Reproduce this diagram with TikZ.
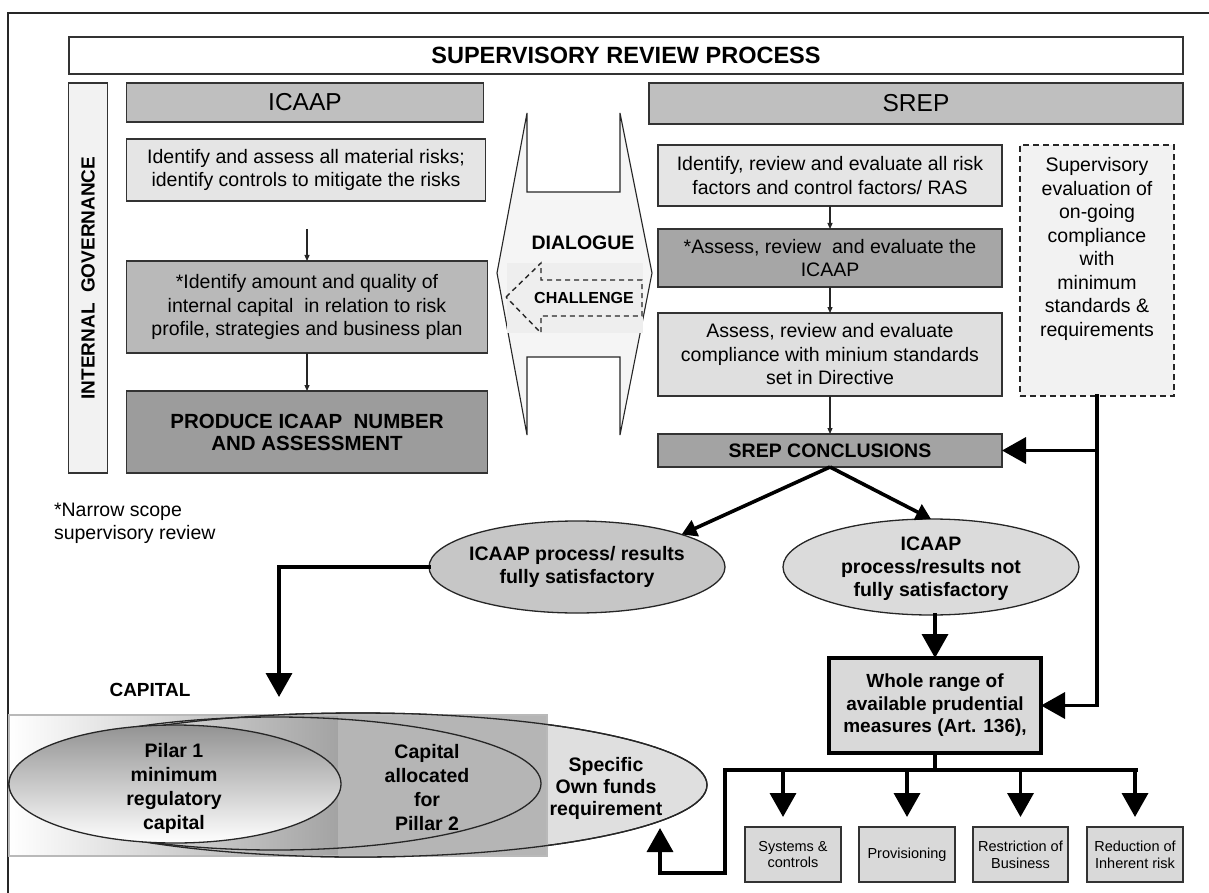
\documentclass[tikz,border=0pt]{standalone}
\usepackage{fontspec}
\setmainfont{Liberation Sans}
\usetikzlibrary{arrows.meta,shapes.geometric,calc}
\newcommand{\fsNorm}{\fontsize{19.5}{23.5}\selectfont}
\newcommand{\fsHead}{\fontsize{24.5}{28}\selectfont}
\newcommand{\fsTitle}{\fontsize{23.5}{26}\selectfont\bfseries}
\newcommand{\fsBold}{\fontsize{19.5}{23}\selectfont\bfseries}
\newcommand{\fsSmall}{\fontsize{14.5}{16.7}\selectfont}
\newcommand{\fsChal}{\fontsize{16}{19}\selectfont\bfseries}
\begin{document}
\begin{tikzpicture}[x=1pt,y=-1pt,
  every node/.style={inner sep=0pt, outer sep=0pt},
  box/.style={draw=black!80, line width=1.1pt, align=center, font=\fsNorm},
  ell/.style={ellipse, draw=black!85, line width=1.3pt},
  txt/.style={align=center, font=\fsBold},
  thinarr/.style={draw=black!85, line width=1.2pt, -{Triangle[length=6pt,width=5pt]}},
  thickln/.style={line width=3.6pt, line join=miter, line cap=rect},
  thickarr/.style={thickln, -{Triangle[length=24pt,width=26pt]}},
  midarr/.style={line width=3.6pt, -{Triangle[length=15pt,width=17pt]}},
]
\useasboundingbox (0,0) rectangle (1209,893);
% outer frame
\draw[line width=1.2pt, black!85] (8,893) -- (8,13) -- (1209,13);
% title
\node[box, fill=white, minimum width=1114pt, minimum height=37pt, font=\fsTitle] (title) at (626,55.5) {SUPERVISORY REVIEW PROCESS};
% internal governance
\node[box, fill=gray!10, minimum width=38.5pt, minimum height=390pt] (ig) at (88,278) {};
\node[rotate=90, font=\fontsize{19}{22}\selectfont\bfseries] (igt) at (ig.center) {INTERNAL\ \ GOVERNANCE};
% ICAAP column
\node[box, fill=gray!50, minimum width=357.5pt, minimum height=39pt, font=\fsHead] (icaap) at (305,102.5) {ICAAP};
\node[box, fill=gray!20, minimum width=358.5pt, minimum height=62pt] (b1) at (306,170) {Identify and assess all material risks;\\identify controls to mitigate the risks};
\node[box, fill=gray!55, minimum width=361.5pt, minimum height=92pt] (b2) at (307,307) {*Identify amount and quality of\\internal capital\ \ in relation to risk\\profile, strategies and business plan};
\node[box, fill=gray!78, minimum width=361.5pt, minimum height=82pt, font=\fontsize{20.5}{22}\selectfont\bfseries] (b3) at (307,432) {PRODUCE ICAAP\ \ NUMBER\\AND ASSESSMENT};
\coordinate (a1s) at (307,229);
\draw[thinarr] (a1s) -- (b2.north);
\draw[thinarr] (b2.south) -- (b3.north);
% dialogue shape
\draw[line width=1.1pt, black!85, fill=gray!8] (497,273) -- (527,113) -- (527,192) -- (620,192) -- (620,113) -- (652,273) -- (620,435) -- (620,357) -- (527,357) -- (527,435) -- cycle;
\fill[gray!13] (507,263) rectangle (643,333);
\draw[dashed, line width=1.4pt, black!85, dash pattern=on 5pt off 4pt] (506,297) -- (541,263) -- (541,280) -- (642,280) -- (642,316) -- (541,316) -- (541,333) -- cycle;
\node[font=\fsBold] (dlg) at (583,243) {DIALOGUE};
\node[font=\fsChal] (chl) at (584,298) {CHALLENGE};
% SREP column
\node[box, fill=gray!50, minimum width=534pt, minimum height=41pt, font=\fsHead] (srep) at (916,103.5) {SREP};
\node[box, fill=gray!20, minimum width=344pt, minimum height=61pt] (s1) at (830,175.5) {Identify, review and evaluate all risk\\factors and control factors/ RAS};
\node[box, fill=gray!70, minimum width=344pt, minimum height=58pt] (s2) at (830,258) {*Assess, review\ \ and evaluate the\\ICAAP};
\node[box, fill=gray!25, minimum width=344pt, minimum height=83pt] (s3) at (830,354.5) {Assess, review and evaluate\\compliance with minium standards\\set in Directive};
\node[box, fill=gray!72, minimum width=344pt, minimum height=33pt, font=\fontsize{19.5}{21}\selectfont\bfseries] (concl) at (830,450.5) {SREP CONCLUSIONS};
\draw[thinarr] (s1.south) -- (s2.north);
\draw[thinarr] (s2.south) -- (s3.north);
\draw[thinarr] (s3.south) -- (concl.north);
\node[box, fill=gray!10, dashed, dash pattern=on 6pt off 4pt, line width=1.8pt, draw=black!85, minimum width=154pt, minimum height=251pt] (dash) at (1097,270.5) {};
\node[align=center, font=\fsNorm] (dasht) at (1097,249) {Supervisory\\evaluation of\\on-going\\compliance\\with\\minimum\\standards \&\\requirements};
% footnote
\node[anchor=west, align=left, font=\fsNorm] (note) at (54,523.5) {*Narrow scope\\supervisory review};
% outcome ellipses
\node[ell, fill=gray!45, minimum width=296pt, minimum height=92pt] (le) at (577,567) {};
\node[txt] (let) at (le.center) {ICAAP process/ results\\fully satisfactory};
\node[ell, fill=gray!28, minimum width=296pt, minimum height=96pt] (re) at (931,567) {};
\node[txt] (ret) at (931,569) {ICAAP\\process/results not\\fully satisfactory};
\draw[midarr] (concl.south) -- (le.north east);
\draw[midarr] (concl.south) -- (re.north);
% whole range
\node[draw=black, line width=3.6pt, fill=gray!30, minimum width=212pt, minimum height=95pt, align=center, font=\fontsize{19}{22.5}\selectfont\bfseries] (wr) at (935,705.5) {Whole range of\\available prudential\\measures (Art. 136),};
\draw[thickarr] (wr.north |- re.south) -- (wr.north);
\draw[thickarr] (dash.south) -- (dash.south |- wr.east) -- (wr.east);
\draw[thickarr] (dash.south |- concl.east) -- (concl.east);
% measures
\node[box, fill=gray!30, minimum width=96pt, minimum height=55pt, font=\fsSmall] (sb1) at (793,854.5) {Systems \&\\controls};
\node[box, fill=gray!30, minimum width=96pt, minimum height=55pt, font=\fsSmall] (sb2) at (907,854.5) {Provisioning};
\node[box, fill=gray!30, minimum width=95pt, minimum height=55pt, font=\fsSmall] (sb3) at (1020.5,854.5) {Restriction of\\Business};
\node[box, fill=gray!30, minimum width=96pt, minimum height=55pt, font=\fsSmall] (sb4) at (1135,854.5) {Reduction of\\Inherent risk};
\coordinate (hl) at (725,770);
\coordinate (hr) at (1136,770);
\coordinate (specarr) at (660,828);
\draw[thickln] (wr.south) -- (wr.south |- hl);
\draw[thickarr] (hr) -- (hl) -- (725,873) -- (660,873) -- (specarr);
\draw[thickarr] ([xshift=-10pt]sb1.north |- hl) -- ([xshift=-10pt,yshift=10pt]sb1.north);
\draw[thickarr] (sb2.north |- hl) -- ([yshift=10pt]sb2.north);
\draw[thickarr] (sb3.north |- hl) -- ([yshift=10pt]sb3.north);
\draw[thickarr] (sb4.north |- hl) -- ([yshift=10pt]sb4.north);
% capital
\node[font=\fontsize{19}{22}\selectfont\bfseries] (capt) at (150,690) {CAPITAL};
\coordinate (captip) at (279,697);
\draw[thickarr] (le.west) -- (le.west -| captip) -- (captip);
\node[ell, fill=gray!25, minimum width=698pt, minimum height=144pt] (spec) at (358,785) {};
\shade[left color=white, right color=gray!72] (9,715) rectangle (338,856);
\fill[gray!58] (338,715) rectangle (547,856);
\draw[gray!55, line width=1.2pt] (9,715) rectangle (547,856);
\draw[line width=1.3pt, black!85] (spec.center) ellipse [x radius=349, y radius=72];
\node[ell, minimum width=532pt, minimum height=133pt] (mid) at (275,783.5) {};
\node[ell, top color=gray!85, bottom color=white, minimum width=332pt, minimum height=118pt] (pil) at (175,784) {};
\node[txt, font=\fontsize{19.5}{24}\selectfont\bfseries] (pilt) at (174,788) {Pilar 1\\minimum\\regulatory\\capital};
\node[txt, font=\fontsize{19.5}{24}\selectfont\bfseries] (midt) at (427,788) {Capital\\allocated\\for\\Pillar 2};
\node[txt, font=\fontsize{19.5}{22}\selectfont\bfseries] (spect) at (606,788) {Specific\\Own funds\\requirement};
\end{tikzpicture}
\end{document}
